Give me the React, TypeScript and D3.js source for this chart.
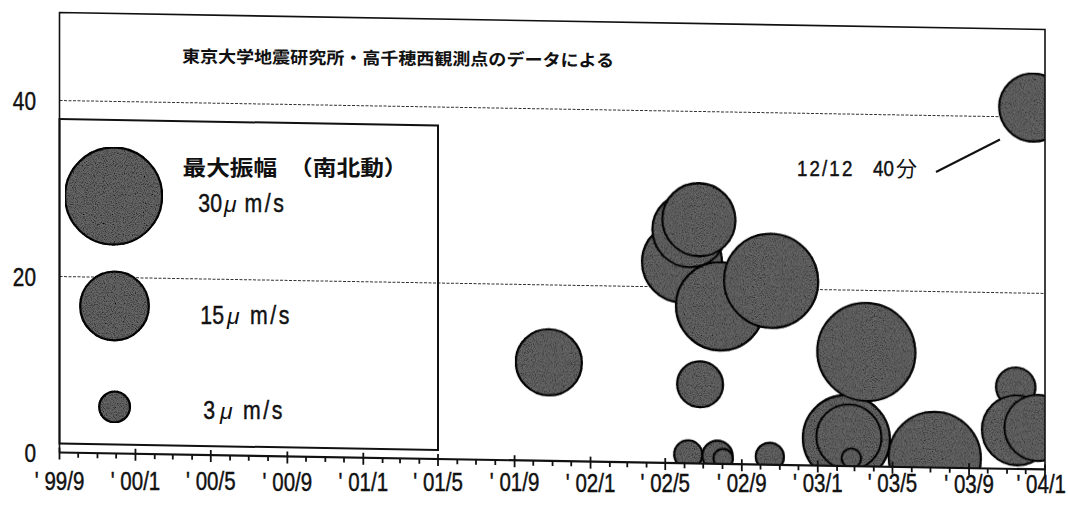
import React from "react";
import * as d3 from "d3";

// 東京大学地震研究所・高千穂西観測点 — 低周波微動の継続時間と最大振幅
const eventDates = [
  "2001-10-26", "2002-05-28", "2002-06-07", "2002-06-09", "2002-06-24",
  "2002-06-26", "2002-07-24", "2002-07-28", "2002-08-02", "2002-10-16",
  "2002-10-18", "2003-01-13", "2003-02-16", "2003-02-20", "2003-02-24",
  "2003-03-20", "2003-07-08", "2003-11-15", "2003-11-17", "2003-12-13",
  "2003-12-20",
];
const durations = [
  11.2, 22.8, 1.0, 26.5, 27.7,
  9.0, 0.9, 17.9, 0.6, 0.9,
  20.9, 0.8, 3.1, 3.3, 0.9,
  13.0, 1.1, 9.3, 4.4, 41.1,
  4.7,
];
const amplitudes = [
  13.9, 20.4, 2.5, 17.5, 17.0,
  6.7, 2.9, 24.7, 1.2, 2.5,
  28.2, 2.2, 24.1, 13.5, 1.2,
  30.6, 27.0, 4.9, 15.6, 14.7,
  13.9,
];
const yTicks = [0, 20, 40];
const gridValues = [20, 40];
const legendValues = [30, 15, 3];
const legendLabels = ["30", "15", "3"];
const titleText = "東京大学地震研究所・高千穂西観測点のデータによる";
const legendTitle = "最大振幅　（南北動）";
const noteDate = "12/12";
const noteMinutes = "40分";

const W = 1068;
const H = 506;
const plot = { left: 59.5, right: 1045, top: 12.5, bottom: 452.5 };
const slope = 0.0172; // the scan runs downhill to the right
const numFont = "'Liberation Sans', Arial, sans-serif";
const jpFont = "'Noto Sans CJK JP', sans-serif";
const ink = "#111";
const bubbleFill = "#666";

const parse = d3.timeParse("%Y-%m-%d");

// condensed text: regular face squeezed horizontally
const Narrow = ({ x, y, sx = 0.8, anchor = "start", size, children }: any) => (
  <text
    transform={`translate(${x},${y}) scale(${sx},1)`}
    textAnchor={anchor}
    fontFamily={numFont}
    fontSize={size}
    fill={ink}
    stroke={ink}
    strokeWidth={0.45}
  >
    {children}
  </text>
);

export default function App() {
  const x = d3
    .scaleTime()
    .domain([new Date(1999, 8, 1), new Date(2004, 0, 1)])
    .range([plot.left, plot.right]);
  const y = d3.scaleLinear().domain([0, 50]).range([plot.bottom, plot.top]);
  const r = d3.scaleSqrt().domain([0, 30]).range([0, 48.5]);

  const points = eventDates.map((d, i) => ({
    date: parse(d) as Date,
    min: durations[i],
    amp: amplitudes[i],
  }));

  const months = d3.timeMonth.range(new Date(1999, 8, 1), new Date(2004, 0, 2));
  const isMajor = (d: Date) => d.getMonth() % 4 === 0;
  const majors = months.filter(isMajor);
  const fmt = (d: Date) => d3.timeFormat("%y")(d) + "/" + (d.getMonth() + 1);

  const shear = `matrix(1,${slope},0,1,0,${-slope * plot.left})`;

  // legend layout (circle centre, text baseline, number end / mu / unit x)
  const rows = [
    { cx: 113.6, cy: 196, base: 212, nx: 222, mx: 224, ux: 244.5 },
    { cx: 114.5, cy: 306, base: 324, nx: 224, mx: 227, ux: 250 },
    { cx: 114.6, cy: 407, base: 419, nx: 215, mx: 220, ux: 243 },
  ];

  return (
    <div style={{ position: "absolute", left: 0, top: 0 }}>
      <svg width={W} height={H} style={{ display: "block", background: "#fff" }}>
        <defs>
          <clipPath id="plotClip" clipPathUnits="userSpaceOnUse">
            <rect
              x={plot.left}
              y={plot.top}
              width={plot.right - plot.left}
              height={plot.bottom - plot.top}
            />
          </clipPath>
          <filter id="grain" x="0" y="0" width="100%" height="100%">
            <feTurbulence type="fractalNoise" baseFrequency="0.9" numOctaves="2" seed="7" result="noise" />
            <feColorMatrix
              in="noise"
              type="matrix"
              values="0 0 0 0 0  0 0 0 0 0  0 0 0 0 0  2.2 0 0 0 -0.9"
              result="dots"
            />
            <feComposite in="dots" in2="SourceGraphic" operator="in" result="specks" />
            <feMerge>
              <feMergeNode in="SourceGraphic" />
              <feMergeNode in="specks" />
            </feMerge>
          </filter>
        </defs>

        <g transform={shear}>
          {/* grid lines */}
          {gridValues.map((v) => (
            <line
              key={v}
              x1={plot.left}
              x2={plot.right}
              y1={y(v)}
              y2={y(v)}
              stroke="#333"
              strokeWidth={1}
              strokeDasharray="3 1.5"
            />
          ))}

          {/* bubbles */}
          <g clipPath="url(#plotClip)">
            <g filter="url(#grain)">
              {points.map((p, i) => (
                <circle
                  key={i}
                  cx={x(p.date)}
                  cy={y(p.min)}
                  r={r(p.amp)}
                  fill={bubbleFill}
                  stroke={ink}
                  strokeWidth={2.3}
                />
              ))}
            </g>
          </g>

          {/* legend frame */}
          <rect
            x={plot.left}
            y={119}
            width={438 - plot.left}
            height={443.5 - 119}
            fill="none"
            stroke={ink}
            strokeWidth={2}
          />

          {/* plot frame */}
          <path
            d={`M${plot.left},${plot.bottom}V${plot.top}H${plot.right}V${plot.bottom}`}
            fill="none"
            stroke={ink}
            strokeWidth={1.6}
          />

          {/* x axis */}
          <line x1={plot.left} x2={plot.right} y1={plot.bottom} y2={plot.bottom} stroke={ink} strokeWidth={2.2} />
          {months.map((d, i) => (
            <line
              key={i}
              x1={x(d)}
              x2={x(d)}
              y1={isMajor(d) ? plot.bottom - 5 : plot.bottom}
              y2={plot.bottom + (isMajor(d) ? 7 : 5)}
              stroke={ink}
              strokeWidth={1.8}
            />
          ))}
        </g>

        {/* y labels */}
        {yTicks.map((v) => (
          <Narrow key={v} x={36} y={y(v) + 9.5} anchor="end" size={26}>
            {v}
          </Narrow>
        ))}

        {/* x labels (the last one is kept inside the page edge) */}
        {majors.map((d, i) => {
          const last = i === majors.length - 1;
          return (
            <Narrow
              key={i}
              x={last ? 1066 : x(d)}
              y={490 + 0.003 * (x(d) - plot.left)}
              anchor={last ? "end" : "middle"}
              size={25}
              sx={0.82}
            >
              <tspan>'</tspan>
              <tspan dx={7}>{fmt(d)}</tspan>
            </Narrow>
          );
        })}

        {/* title */}
        <text
          x={182}
          y={62.5}
          fontFamily={jpFont}
          fontSize={17}
          fontWeight={700}
          fill={ink}
          textLength={432}
          lengthAdjust="spacingAndGlyphs"
          transform="rotate(0.55 182 62)"
        >
          {titleText}
        </text>

        {/* legend */}
        <text
          x={182.5}
          y={175}
          fontFamily={jpFont}
          fontSize={21}
          fontWeight={700}
          fill={ink}
          textLength={225}
          lengthAdjust="spacingAndGlyphs"
        >
          {legendTitle}
        </text>
        <g filter="url(#grain)">
          {legendValues.map((v, i) => (
            <circle
              key={v}
              cx={rows[i].cx}
              cy={rows[i].cy}
              r={r(v)}
              fill={bubbleFill}
              stroke={ink}
              strokeWidth={2.3}
            />
          ))}
        </g>
        {legendValues.map((v, i) => (
          <g key={v}>
            <Narrow x={rows[i].nx} y={rows[i].base} anchor="end" size={25} sx={0.85}>
              {legendLabels[i]}
            </Narrow>
            <text
              x={rows[i].mx}
              y={rows[i].base}
              fontFamily={numFont}
              fontSize={23}
              fontStyle="italic"
              fill={ink}
            >
              μ
            </text>
            <Narrow x={rows[i].ux} y={rows[i].base} size={25} sx={0.85}>
              <tspan letterSpacing={3}>m/s</tspan>
            </Narrow>
          </g>
        ))}

        {/* annotation */}
        <Narrow x={797} y={175.6} size={22} sx={0.85}>
          <tspan letterSpacing={2.5}>{noteDate}</tspan>
        </Narrow>
        <Narrow x={873} y={175.6} size={22} sx={0.85}>
          {noteMinutes.slice(0, 2)}
        </Narrow>
        <text x={896} y={175.6} fontFamily={jpFont} fontSize={21} fill={ink}>
          {noteMinutes.slice(2)}
        </text>
        <line x1={936} y1={172} x2={1000} y2={139.5} stroke={ink} strokeWidth={2} />
      </svg>
    </div>
  );
}
